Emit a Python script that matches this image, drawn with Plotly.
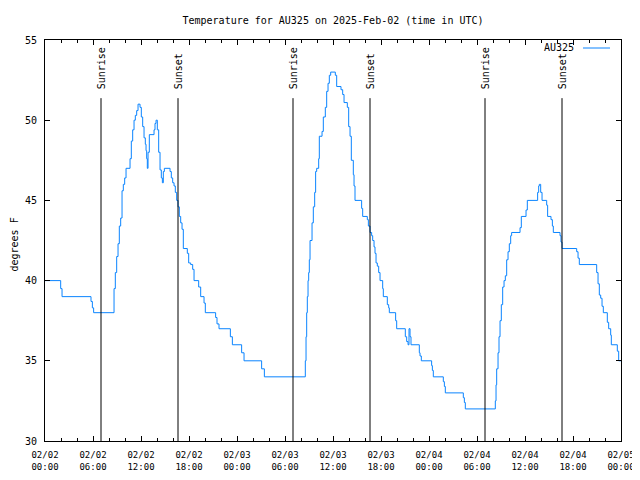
import plotly.graph_objects as go

# ---- data ----
hours = [0, 1.96, 2.13, 5.75, 5.92, 6.08,
         8.63, 8.79, 8.96, 9.13, 9.29, 9.46, 9.63, 9.79, 9.96, 10.13, 10.63, 10.79, 10.96,
         11.13, 11.29, 11.46, 11.63, 11.88, 12.04, 12.21, 12.38, 12.54, 12.63, 12.71, 12.79,
         12.88, 13.04, 13.63, 13.75, 13.88, 14.04, 14.21, 14.38, 14.54, 14.67, 14.79, 14.92,
         15.63, 15.79, 15.96, 16.13, 16.29, 16.46, 16.63, 16.79, 16.96, 17.13, 17.29, 17.79,
         17.96, 18.21, 18.46, 18.63, 19.21, 19.46, 19.88, 20.04, 21.33, 21.5, 21.75, 23.17,
         23.42, 24.58, 24.88, 27.08, 27.42,
         32.54, 32.63, 32.71, 32.79, 32.88, 32.96, 33.04, 33.13, 33.38, 33.54, 33.71, 33.83,
         33.96, 34.21, 34.29, 34.63, 34.79, 35.04, 35.21, 35.38, 35.54, 35.71, 36.29, 36.46,
         37.0, 37.21, 37.38, 37.79, 37.96, 38.13, 38.29, 38.54, 38.63, 38.75, 39.58, 39.71,
         40.29, 40.42, 40.63, 40.83, 40.96, 41.13, 41.25, 41.38, 41.54, 41.71, 41.88, 42.21,
         42.29, 42.79, 42.96, 43.04, 43.83, 43.96, 45.04, 45.21, 45.38, 45.5, 45.63, 45.75,
         46.79, 46.88, 47.04, 48.33, 48.42, 48.54, 49.79, 49.92, 50.04, 52.29, 52.42, 52.54,
         56.29, 56.38, 56.46, 56.63, 56.75, 56.88, 57.04, 57.21, 57.38, 57.54, 57.71, 57.88,
         58.04, 58.21, 58.33, 59.38, 59.54, 60.13, 60.29, 61.58, 61.71, 61.79, 61.96, 62.13,
         62.71, 62.83, 63.25, 63.42, 63.54, 64.38, 64.5, 64.63, 66.46, 66.63, 66.79, 68.96,
         69.13, 69.29, 69.46, 69.63, 69.79, 70.29, 70.46, 70.71, 70.79, 71.54, 71.71, 72.0]
temps = [40, 39.5, 39, 38.7, 38.3, 38,
         39.5, 40.5, 41.5, 42.3, 43.4, 43.9, 45.6, 46, 46.4, 47, 47.6, 48.7, 49.4,
         50, 50.3, 50.6, 51, 50.8, 50.2, 49.6, 48.9, 48.5, 48.1, 47.6, 47,
         48, 49.1, 49.4, 49.8, 50, 49.4, 48, 46.9, 46.4, 46.1, 46.8, 47,
         46.8, 46.4, 46.1, 45.9, 45.5, 45, 44.6, 44, 43.6, 43.2, 42, 41.7,
         41.1, 41, 40.7, 40, 39.6, 39, 38.6, 38, 37.7, 37.3, 37, 36.5,
         36, 35.5, 35, 34.5, 34,
         35, 36.5, 38, 39, 40, 40.5, 41.3, 42.5, 43.6, 44.6, 45.5, 46.8,
         47, 47.6, 49, 49.3, 50.2, 50.8, 51.8, 52.3, 52.8, 53, 52.8, 52.1,
         51.9, 51.6, 51.1, 50.8, 49.6, 49, 47.5, 46.6, 45.9, 45, 44.5, 44,
         43.8, 43.4, 43, 42.8, 42.5, 42.1, 41.7, 41.1, 40.9, 40.5, 40, 39.5,
         39, 38.5, 38.3, 38, 37.5, 37, 36.5, 36.2, 36, 37, 36.5, 36,
         35.5, 35.3, 35, 34.7, 34.4, 34, 33.7, 33.4, 33, 32.7, 32.4, 32,
         32.5, 33.5, 34.5, 35.5, 36.5, 37.5, 38.5, 39.6, 40, 40.3, 41.3, 41.8,
         42.3, 42.8, 43, 43.3, 44, 44.4, 45, 45.5, 45.9, 46, 45.5, 45,
         44.7, 44, 43.8, 43.4, 43, 42.8, 42.4, 42, 41.8, 41.4, 41, 40.5,
         39.8, 39.1, 38.9, 38.4, 38, 37.4, 37, 36.6, 36, 35.6, 35, 35]

event_hours = [7.0, 16.625, 31.0, 40.625, 55.0, 64.625]
event_labels = ["Sunrise", "Sunset", "Sunrise", "Sunset", "Sunrise", "Sunset"]

tick_hours = [0, 6, 12, 18, 24, 30, 36, 42, 48, 54, 60, 66, 72]
tick_text = ["02/02<br>00:00", "02/02<br>06:00", "02/02<br>12:00", "02/02<br>18:00",
             "02/03<br>00:00", "02/03<br>06:00", "02/03<br>12:00", "02/03<br>18:00",
             "02/04<br>00:00", "02/04<br>06:00", "02/04<br>12:00", "02/04<br>18:00",
             "02/05<br>00:00"]
y_ticks = [30, 35, 40, 45, 50, 55]

series_name = "AU325"
title_text = "Temperature for AU325 on 2025-Feb-02 (time in UTC)"
y_title = "degrees F"

FONT = "DejaVu Sans Mono"
LINE_COLOR = "#0a84ff"

# page has an 8px body margin; figure is sized so the plot box lands at x 45..621, y 40..441
W, H = 632, 472
ML, MR, MT, MB = 37, 19, 32, 39
PW = W - ML - MR   # 576
PH = H - MT - MB   # 401

fig = go.Figure()
fig.add_trace(go.Scatter(x=hours, y=temps, mode="lines", line=dict(color=LINE_COLOR, width=1, shape="hv"),
                         name=series_name, showlegend=False))

shapes = []
annotations = []
for h, lab in zip(event_hours, event_labels):
    shapes.append(dict(type="line", xref="x", yref="paper", x0=h, x1=h, y0=0, y1=0.855,
                       line=dict(color="black", width=1)))
    annotations.append(dict(x=h, y=0.872, xref="x", yref="paper", text=lab, showarrow=False,
                            textangle=-90, xanchor="center", yanchor="bottom",
                            font=dict(family=FONT, size=10, color="black")))

# legend (text then sample line, gnuplot style)
annotations.append(dict(x=(576 - 45) / PW, y=(441 - 48) / PH, xref="paper", yref="paper",
                        text=series_name, showarrow=False, xanchor="right", yanchor="middle",
                        font=dict(family=FONT, size=10, color="black")))
shapes.append(dict(type="line", xref="paper", yref="paper", x0=(583 - 45) / PW, x1=(610 - 45) / PW,
                   y0=(441 - 48) / PH, y1=(441 - 48) / PH, line=dict(color=LINE_COLOR, width=1)))

annotations.append(dict(x=(15 - 45) / PW, y=0.49, xref="paper", yref="paper", text=y_title,
                        showarrow=False, textangle=-90, xanchor="center", yanchor="middle",
                        font=dict(family=FONT, size=10, color="black")))

fig.update_layout(
    width=W, height=H,
    margin=dict(l=ML, r=MR, t=MT, b=MB, autoexpand=False),
    paper_bgcolor="white", plot_bgcolor="white",
    title=dict(text=title_text, x=0.5, xanchor="center", xref="paper", y=1 - 12 / H, yanchor="middle",
               font=dict(family=FONT, size=10, color="black")),
    font=dict(family=FONT, size=10, color="black"),
    shapes=shapes, annotations=annotations,
)
fig.update_xaxes(range=[0, 72], tickvals=tick_hours, ticktext=tick_text, ticks="inside", ticklen=5,
                 tickcolor="black", showline=True, linecolor="black", linewidth=1, mirror="ticks",
                 showgrid=False, zeroline=False, tickfont=dict(family=FONT, size=9), automargin=False,
                 ticklabelstandoff=5,
                 minor=dict(dtick=2, tick0=0, ticks="inside", ticklen=3, tickcolor="black", showgrid=False))
fig.update_yaxes(range=[30, 55], tickvals=y_ticks, ticks="inside", ticklen=5, tickcolor="black",
                 showline=True, linecolor="black", linewidth=1, mirror="ticks", showgrid=False,
                 zeroline=False, tickfont=dict(family=FONT, size=10), automargin=False,
                 ticklabelstandoff=5)

fig.write_html("out.html")
